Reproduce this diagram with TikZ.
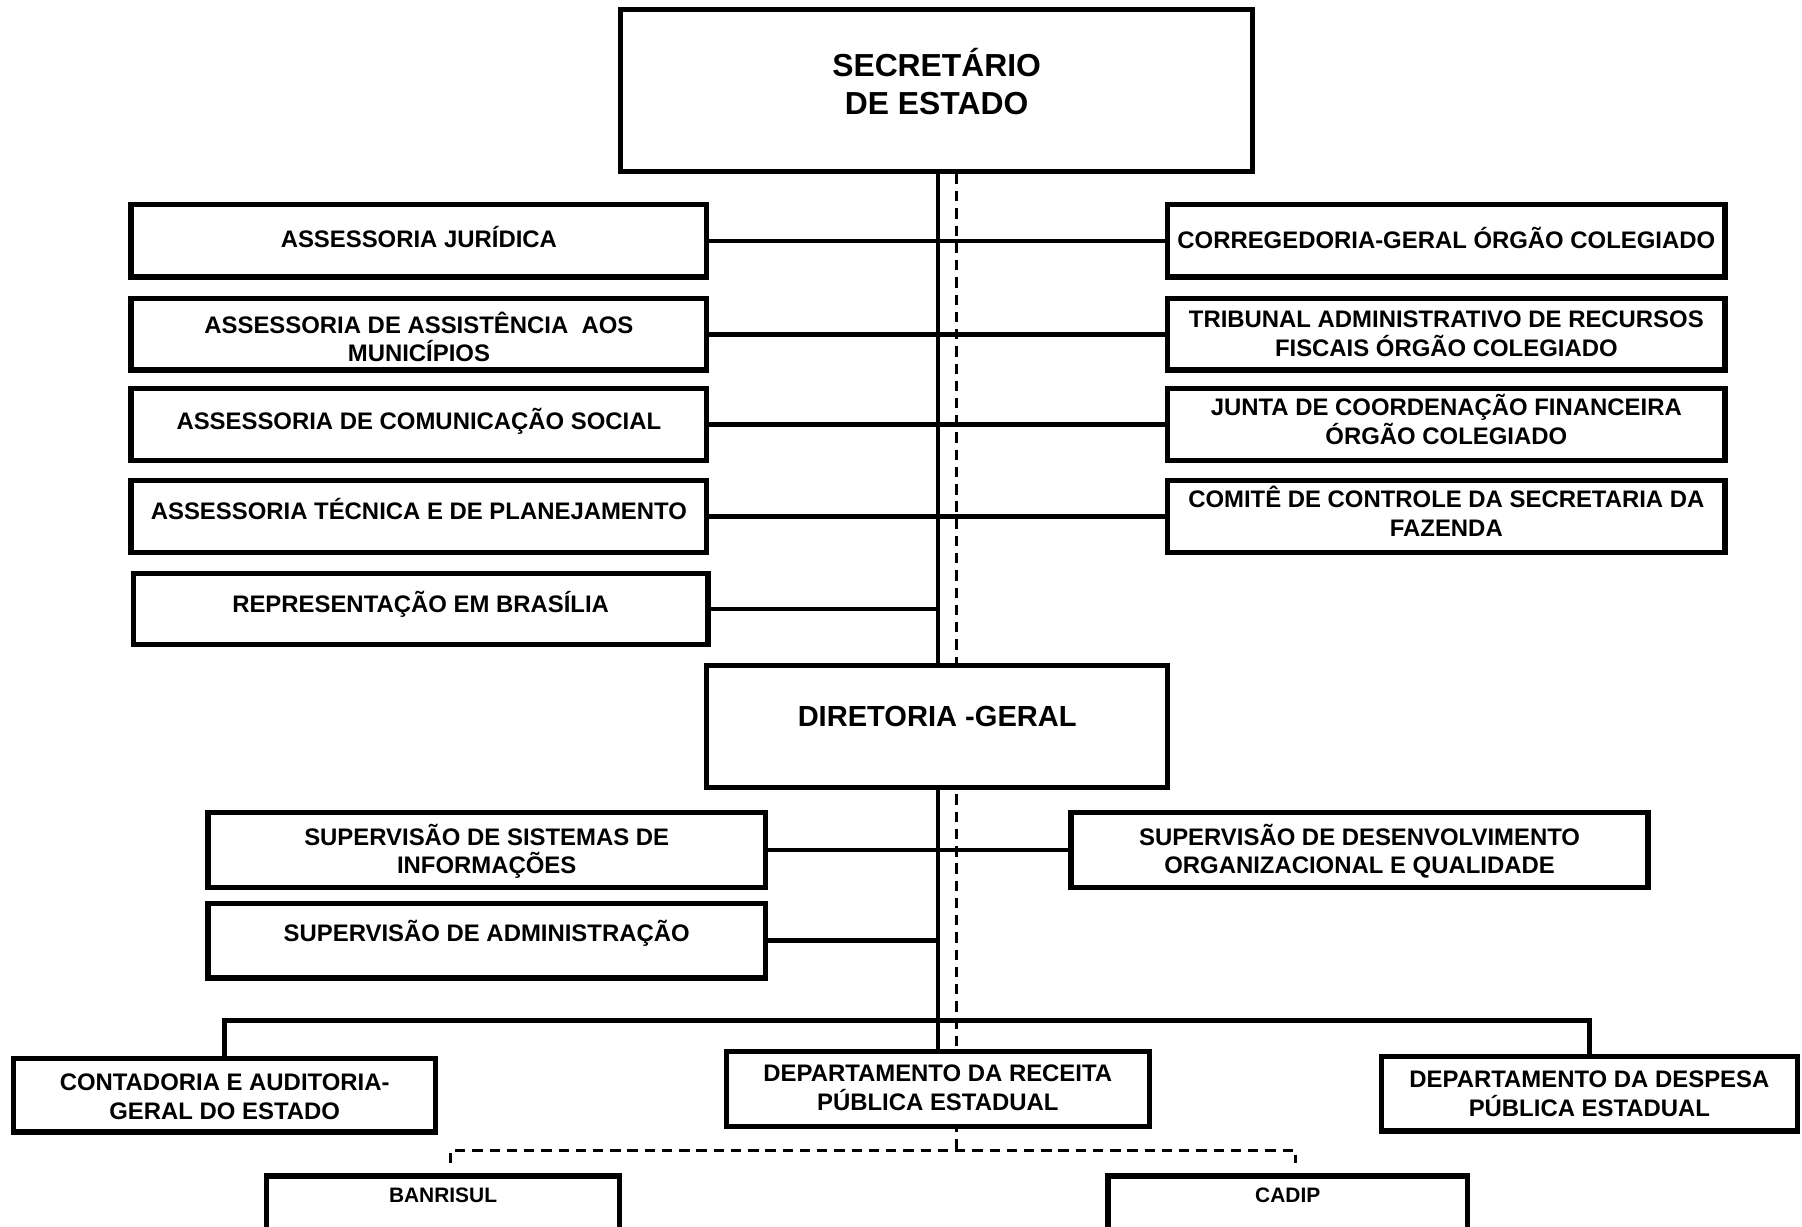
\documentclass[tikz,border=0pt]{standalone}
\usepackage{fontspec}
\setmainfont{Liberation Sans}
\pgfdeclarelayer{bg}
\pgfdeclarelayer{lines}
\pgfsetlayers{bg,lines,main}
\newcommand{\twoline}[3][25pt]{\vtop{\baselineskip=#1\lineskiplimit=-10pt\halign{\hfil##\hfil\cr#2\cr#3\cr}}}
\tikzset{
  box/.style={draw, line width=4.6pt, fill=white, inner sep=2pt,
    font=\bfseries\fontsize{20.8}{25}\selectfont},
  lbox/.style={box, minimum width=501pt, minimum height=63pt},
  rbox/.style={box, minimum width=485pt, minimum height=63pt},
  supbox/.style={box, minimum height=65pt},
  conn/.style={line width=3.8pt},
  dashconn/.style={line width=2.4pt, dash pattern=on 9pt off 6pt},
  smalltext/.style={font=\bfseries\fontsize{18.2}{22}\selectfont},
}
\begin{document}
\begin{tikzpicture}[x=1pt,y=-1pt]
\useasboundingbox (0,0) rectangle (1568,1067);
\begin{pgfonlayer}{bg}
\fill[white] (0,0) rectangle (1568,1067);
\end{pgfonlayer}
\clip (0,0) rectangle (1568,1067);

\coordinate (tx) at (816,0);
\coordinate (dx) at (832,0);
\coordinate (bar) at (0,888);
\coordinate (dl) at (392,1001);
\coordinate (dr) at (1127,1001);
\coordinate (dlend) at (392,1012);
\coordinate (drend) at (1127,1012);

% top
\node[box, minimum width=550pt, minimum height=141pt, text height=19.8pt, text depth=43pt,
      font=\bfseries\fontsize{27.7}{33}\selectfont] (sec) at (815,78.5) {\twoline[33pt]{SECRETÁRIO}{DE ESTADO}};

% left column
\node[lbox, text height=14.9pt, text depth=3pt] (aj)  at (364.5,209.5) {ASSESSORIA JURÍDICA};
\node[lbox, minimum height=62pt, text height=22.9pt, text depth=25pt] (aam) at (364.5,291) {\twoline{ASSESSORIA DE ASSISTÊNCIA\ \ AOS}{MUNICÍPIOS}};
\node[lbox, text height=14.9pt, text depth=7pt] (acs) at (364.5,369.5) {ASSESSORIA DE COMUNICAÇÃO SOCIAL};
\node[lbox, text height=14.9pt, text depth=9pt] (atp) at (364.5,449.5) {ASSESSORIA TÉCNICA E DE PLANEJAMENTO};
\node[lbox, minimum width=500pt, minimum height=62pt, text height=14.9pt, text depth=9pt] (rb) at (366,530) {REPRESENTAÇÃO EM BRASÍLIA};

% right column
\node[rbox, text height=14.9pt, text depth=2pt] (cg) at (1258.5,209.5) {CORREGEDORIA-GERAL ÓRGÃO COLEGIADO};
\node[rbox, minimum height=62pt, text height=14.9pt, text depth=27pt] (tarf) at (1258.5,291) {\twoline{TRIBUNAL ADMINISTRATIVO DE RECURSOS}{FISCAIS ÓRGÃO COLEGIADO}};
\node[rbox, text height=14.9pt, text depth=31pt] (jcf) at (1258.5,369.5) {\twoline{JUNTA DE COORDENAÇÃO FINANCEIRA}{ÓRGÃO COLEGIADO}};
\node[rbox, text height=14.9pt, text depth=31pt] (ccs) at (1258.5,449.5) {\twoline{COMITÊ DE CONTROLE DA SECRETARIA DA}{FAZENDA}};

% diretoria
\node[box, minimum width=401pt, minimum height=106pt, text height=18.1pt, text depth=17.6pt,
      font=\bfseries\fontsize{25.3}{30}\selectfont] (dg) at (815.5,632) {DIRETORIA -GERAL};

% supervisoes
\node[supbox, minimum width=485pt, text height=16.9pt, text depth=25pt] (ssi) at (423.5,739.5) {\twoline{SUPERVISÃO DE SISTEMAS DE}{INFORMAÇÕES}};
\node[supbox, minimum width=485pt, text height=14.9pt, text depth=14pt] (sa) at (423.5,818.5) {SUPERVISÃO DE ADMINISTRAÇÃO};
\node[supbox, minimum width=502pt, text height=16.9pt, text depth=25pt] (sdo) at (1183,739.5) {\twoline{SUPERVISÃO DE DESENVOLVIMENTO}{ORGANIZACIONAL E QUALIDADE}};

% departments
\node[box, minimum width=367pt, minimum height=64pt, text height=16.9pt, text depth=25pt] (cage) at (195.5,953) {\twoline{CONTADORIA E AUDITORIA-}{GERAL DO ESTADO}};
\node[box, minimum width=368pt, minimum height=65pt, text height=14.9pt, text depth=27pt] (drpe) at (816,947.5) {\twoline{DEPARTAMENTO DA RECEITA}{PÚBLICA ESTADUAL}};
\node[box, minimum width=362pt, minimum height=65pt, text height=14.9pt, text depth=25pt] (ddpe) at (1383,951.5) {\twoline{DEPARTAMENTO DA DESPESA}{PÚBLICA ESTADUAL}};

% banrisul / cadip
\node[box, minimum width=307pt, minimum height=79pt, anchor=north] (ban) at (385.5,1021) {};
\node[smalltext] (bant) at (385.5,1040) {BANRISUL};
\node[box, minimum width=313pt, minimum height=79pt, anchor=north] (cad) at (1120.5,1021) {};
\node[smalltext] (cadt) at (1120.5,1040) {CADIP};

\begin{pgfonlayer}{lines}
\draw[conn] (aj.east) -- (cg.west);
\draw[conn] (aam.east) -- (tarf.west);
\draw[conn] (acs.east) -- (jcf.west);
\draw[conn] (atp.east) -- (ccs.west);
\draw[conn] (rb.east) -- (rb.east -| tx);
\draw[conn] (sec.south -| tx) -- (dg.north -| tx);
\draw[conn] (dg.south -| tx) -- (drpe.north);
\draw[conn] (ssi.east) -- (sdo.west);
\draw[conn] (sa.east) -- (sa.east -| tx);
\draw[conn] (cage.north) -- (cage.north |- bar) -- (ddpe.north |- bar) -- (ddpe.north);
\draw[dashconn] (sec.south -| dx) -- (dl -| dx);
\draw[dashconn] (dlend) -- (dl) -- (dr) -- (drend);
\end{pgfonlayer}
\end{tikzpicture}
\end{document}
